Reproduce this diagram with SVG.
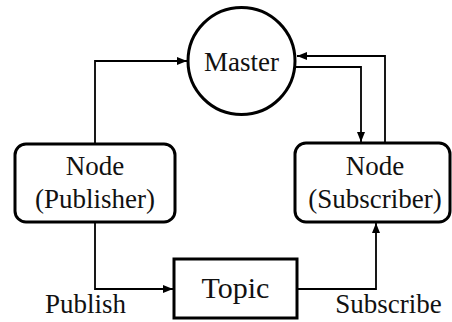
<svg xmlns="http://www.w3.org/2000/svg" width="452" height="322" viewBox="0 0 452 322">
<defs>
<marker id="ah" markerWidth="10" markerHeight="8" refX="10" refY="4" orient="auto" markerUnits="userSpaceOnUse">
<path d="M0,0 L10,4 L0,8 Z" fill="#000"/>
</marker>
<style>
.shape{fill:#fff;stroke:#000;stroke-width:3}
.lbl{font-family:"Liberation Serif","Times New Roman",serif;font-size:27px;fill:#111;text-anchor:middle}
.big{font-size:30px}
.conn{fill:none;stroke:#000;stroke-width:1.8;marker-end:url(#ah)}
</style>
</defs>
<rect width="452" height="322" fill="#fff"/>
<g id="connectors">
<polyline class="conn" points="95,144 95,61 187,61"/>
<polyline class="conn" points="385,143 385,56 297,56"/>
<polyline class="conn" points="294,67 361,67 361,142"/>
<polyline class="conn" points="95,222 95,289 173,289"/>
<polyline class="conn" points="297,289 376,289 376,223"/>
</g>
<g id="master">
<circle class="shape" cx="241.5" cy="61" r="53.5"/>
<text class="lbl" x="241.5" y="71">Master</text>
</g>
<g id="publisher">
<rect class="shape" x="15" y="144" width="160" height="78" rx="11"/>
<text class="lbl" x="95" y="175">Node</text>
<text class="lbl" x="95" y="208">(Publisher)</text>
</g>
<g id="subscriber">
<rect class="shape" x="295" y="143" width="155" height="79" rx="11"/>
<text class="lbl" x="375" y="175">Node</text>
<text class="lbl" x="375" y="208">(Subscriber)</text>
</g>
<g id="topic">
<rect class="shape" x="174" y="259" width="123" height="59"/>
<text class="lbl big" x="235.5" y="298">Topic</text>
</g>
<g id="labels">
<text class="lbl" x="85.5" y="313">Publish</text>
<text class="lbl" x="388.5" y="313">Subscribe</text>
</g>
</svg>
